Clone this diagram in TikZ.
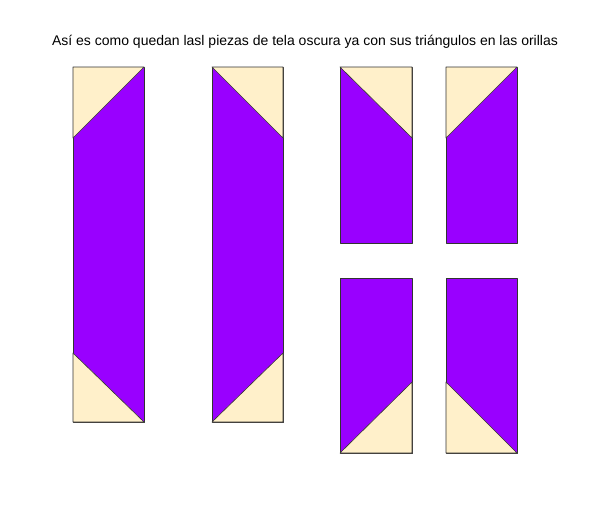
\documentclass[tikz,border=0pt]{standalone}
\usepackage{fontspec}
\setmainfont{Liberation Sans}
\definecolor{tela}{RGB}{153,0,255}
\definecolor{crema}{RGB}{255,240,202}
\tikzset{
  oscura/.style={fill=tela,draw=black!80,line width=0.6pt,line join=round},
  clara/.style={fill=crema,draw=black!80,line width=0.6pt,line join=round}
}
\begin{document}
\begin{tikzpicture}[x=1pt,y=-1pt]
\useasboundingbox[fill=white] (0,0) rectangle (600,504);
\node (titulo) at (305,42) {\fontsize{14}{16}\selectfont As\'i es como quedan lasl piezas de tela oscura ya con sus tri\'angulos en las orillas};
% tiras largas
\draw[oscura] (73,67) rectangle (144,422);
\draw[clara] (73,67) -- (144,67) -- (73,138) -- cycle;
\draw[clara] (73,353) -- (144,422) -- (73,422) -- cycle;
\draw[oscura] (212,67) rectangle (283,422);
\draw[clara] (212,67) -- (283,67) -- (283,138) -- cycle;
\draw[clara] (283,353) -- (283,422) -- (212,422) -- cycle;
% tiras cortas arriba
\draw[oscura] (340,67) rectangle (412,243);
\draw[clara] (340,67) -- (412,67) -- (412,138) -- cycle;
\draw[oscura] (446,67) rectangle (517,243);
\draw[clara] (446,67) -- (517,67) -- (446,138) -- cycle;
% tiras cortas abajo
\draw[oscura] (340,278) rectangle (412,453);
\draw[clara] (412,382) -- (412,453) -- (340,453) -- cycle;
\draw[oscura] (446,278) rectangle (517,453);
\draw[clara] (446,382) -- (517,453) -- (446,453) -- cycle;
\end{tikzpicture}
\end{document}
